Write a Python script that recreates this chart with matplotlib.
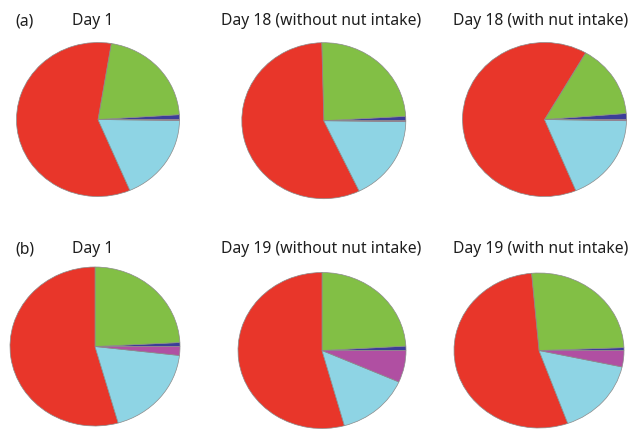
import matplotlib
matplotlib.use('Agg')
import matplotlib.pyplot as plt

# wedge order is counter-clockwise from 3 o'clock
segments = ['dark blue', 'green', 'red', 'light blue', 'magenta']
colors = ['#3c3d99', '#82bf45', '#e8362a', '#8ed4e4', '#b04fa2']

# percentages
a_day1 = [1.0, 21.4, 59.0, 18.4, 0.2]
a_day18_without = [0.9, 24.5, 56.7, 17.7, 0.2]
a_day18_with = [1.25, 15.4, 64.6, 18.5, 0.25]
b_day1 = [0.8, 24.2, 54.4, 18.8, 1.8]
b_day19_without = [0.9, 24.1, 54.3, 14.1, 6.6]
b_day19_with = [0.6, 25.8, 54.1, 16.1, 3.4]

titles = ['Day 1', 'Day 18 (without nut intake)', 'Day 18 (with nut intake)',
          'Day 1', 'Day 19 (without nut intake)', 'Day 19 (with nut intake)']
panel_labels = ['(a)', '(b)']

W, H = 643, 431
fig = plt.figure(figsize=(W / 100, H / 100), dpi=100)
plt.rcParams['font.family'] = ['Noto Sans', 'DejaVu Sans']

# pie centre x, y and radii in pixels (y from top)
boxes = [
    (98, 120.5, 81.5, 77),
    (323.8, 121.7, 82, 78),
    (544.5, 120.5, 82, 77),
    (95, 347.5, 85, 79.5),
    (322, 351.5, 84, 78),
    (539, 351.5, 85, 77.5),
]
data = [a_day1, a_day18_without, a_day18_with, b_day1, b_day19_without, b_day19_with]

pad = 1.03
for (cx, cy, rx, ry), vals in zip(boxes, data):
    rx2, ry2 = rx * pad, ry * pad
    ax = fig.add_axes([(cx - rx2) / W, 1 - (cy + ry2) / H, 2 * rx2 / W, 2 * ry2 / H])
    ax.pie(vals, colors=colors, startangle=0, counterclock=True,
           wedgeprops=dict(edgecolor='#8a8a8a', linewidth=0.5))
    ax.set_aspect('auto')
    ax.set_xlim(-pad, pad)
    ax.set_ylim(-pad, pad)
    ax.axis('off')

title_x = [93, 321, 541]
title_y = [21, 249]
for r in range(2):
    fig.text(24.7 / W, 1 - title_y[r] / H, panel_labels[r], ha='center', va='center',
             fontsize=11.3, color='#1e1e1e')
    for c in range(3):
        fig.text(title_x[c] / W, 1 - title_y[r] / H, titles[r * 3 + c], ha='center',
                 va='center', fontsize=11.3, color='#1e1e1e')

fig.savefig('out.png', dpi=100)
